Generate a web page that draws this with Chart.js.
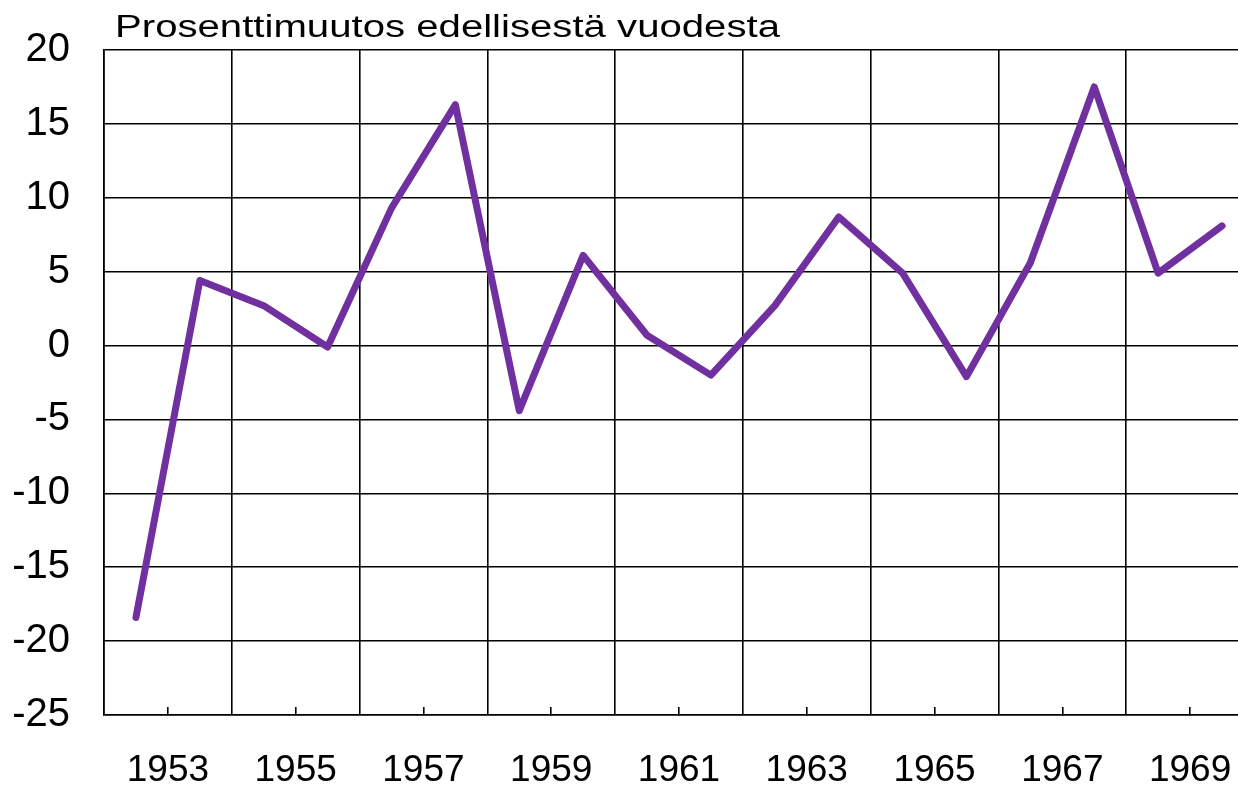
<!DOCTYPE html>
<html>
<head>
<meta charset="utf-8">
<title>Prosenttimuutos edellisestä vuodesta</title>
<script src="https://cdn.jsdelivr.net/npm/chart.js@4/dist/chart.umd.min.js"></script>
<style>
  html, body { margin: 0; padding: 0; background: #fff; overflow: hidden; }
  canvas { display: block; }
</style>
</head>
<body>
<canvas id="changeChart" width="1238" height="787"></canvas>
<script>
// vuosimuutos (%), arvot luettu kuvasta
const years = [1952, 1953, 1954, 1955, 1956, 1957, 1958, 1959, 1960,
               1961, 1962, 1963, 1964, 1965, 1966, 1967, 1968, 1969];
const changes = [-18.4, 4.4, 2.7, -0.1, 9.3, 16.3, -4.4, 6.1, 0.7,
                 -2.0, 2.7, 8.7, 4.9, -2.1, 5.6, 17.5, 4.9, 8.1];

// x-akselin jaot: pystyviivat parillisille vuosille, merkit + tekstit parittomille
const tickYears = [1952, 1953, 1954, 1955, 1956, 1957, 1958, 1959, 1960,
                   1961, 1962, 1963, 1964, 1965, 1966, 1967, 1968, 1969];
const gridYears = [1952, 1954, 1956, 1958, 1960, 1962, 1964, 1966, 1968];
const labelYears = [1953, 1955, 1957, 1959, 1961, 1963, 1965, 1967, 1969];
const yTicks = [-25, -20, -15, -10, -5, 0, 5, 10, 15, 20];

const titleText = 'Prosenttimuutos edellisestä vuodesta';
const FONT = '"Liberation Sans", Arial, sans-serif';
const LINE = '#000';
const NONE = 'rgba(0,0,0,0)';

// otsikko piirretään itse, jotta se saadaan kuvan tapaan leveäksi
const titlePlugin = {
    id: 'wideTitle',
    afterDraw(chart) {
        const ctx = chart.ctx;
        ctx.save();
        ctx.font = '31px ' + FONT;
        ctx.fillStyle = '#000';
        ctx.textBaseline = 'alphabetic';
        const w = ctx.measureText(titleText).width;
        ctx.translate(115, 37);
        ctx.scale(665 / w, 1);
        ctx.fillText(titleText, 0, 0);
        ctx.restore();
    }
};

const points = years.map((yr, i) => ({ x: yr + 0.5, y: changes[i] }));

let ctx = document.getElementById('changeChart').getContext('2d');
new Chart(ctx, {
    type: 'line',
    data: {
        datasets: [{
            label: titleText,
            data: points,
            borderColor: '#7030A0',
            backgroundColor: '#7030A0',
            borderWidth: 7,
            borderCapStyle: 'round',
            borderJoinStyle: 'round',
            pointRadius: 0,
            tension: 0,
            fill: false
        }]
    },
    options: {
        responsive: false,
        animation: false,
        layout: { padding: { top: 50, left: 0, right: 0, bottom: 0 } },
        plugins: {
            legend: { display: false },
            tooltip: { enabled: false },
            title: { display: false }
        },
        scales: {
            x: {
                type: 'linear',
                min: 1952,
                max: 1969.75,
                afterBuildTicks: s => { s.ticks = tickYears.map(v => ({ value: v })); },
                afterFit: s => { s.height = 72; s.paddingLeft = 0; s.paddingRight = 0; },
                grid: {
                    color: c => gridYears.includes(c.tick.value) ? LINE : NONE,
                    tickColor: c => labelYears.includes(c.tick.value) ? LINE : NONE,
                    lineWidth: 1.6,
                    tickWidth: 1.6,
                    tickLength: -8,
                    drawTicks: true
                },
                border: { display: true, color: LINE, width: 1.6 },
                ticks: {
                    autoSkip: false,
                    maxRotation: 0,
                    padding: 42,
                    color: '#000',
                    font: { family: FONT, size: 37 },
                    callback: v => labelYears.includes(v) ? String(v) : ''
                }
            },
            y: {
                min: -25,
                max: 20,
                afterBuildTicks: s => { s.ticks = yTicks.map(v => ({ value: v })); },
                afterFit: s => { s.width = 104; s.paddingTop = 0; s.paddingBottom = 0; },
                grid: {
                    color: LINE,
                    lineWidth: 1.6,
                    drawTicks: false
                },
                border: { display: true, color: LINE, width: 1.6 },
                ticks: {
                    padding: 34,
                    color: '#000',
                    font: { family: FONT, size: 40 }
                }
            }
        }
    },
    plugins: [titlePlugin]
});
</script>
</body>
</html>
